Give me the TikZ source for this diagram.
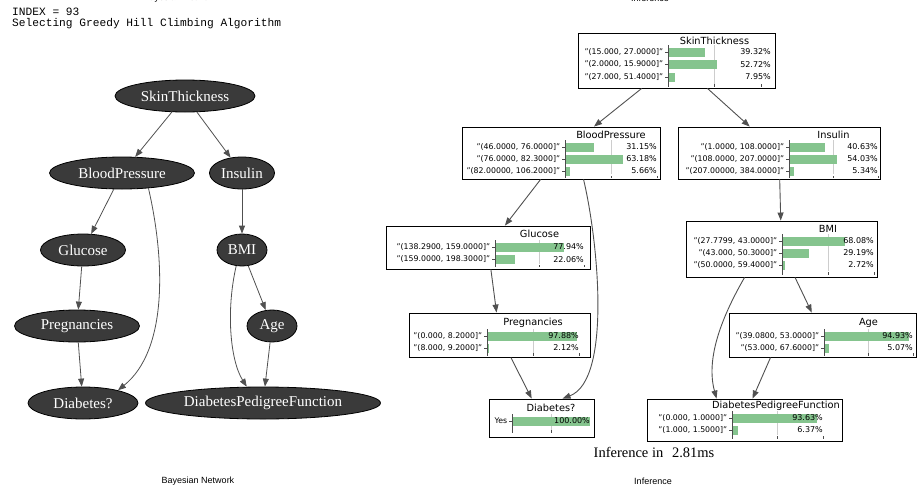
\documentclass[tikz,border=0pt]{standalone}
\usepackage{fontspec}
\setmainfont{Liberation Serif}
\setsansfont{DejaVu Sans}
\setmonofont{Liberation Mono}
\newfontfamily\capfont{Liberation Sans}
\usetikzlibrary{arrows.meta,shapes.geometric}
\definecolor{bnfill}{RGB}{58,58,58}
\definecolor{edgegray}{RGB}{80,80,80}
\definecolor{bargreen}{RGB}{133,196,142}
\definecolor{gridgray}{RGB}{205,205,205}

\begin{document}
\begin{tikzpicture}[x=1pt,y=-1pt]
\tikzset{
  bnnode/.style={ellipse,draw=black,fill=bnfill,line width=0.8pt,minimum height=32pt,inner sep=0pt,text=white,font=\fontsize{15}{17}\selectfont},
  bnedge/.style={draw=edgegray,line width=0.8pt,-{Triangle[length=8pt,width=6pt]}},
  infbox/.style={rectangle,draw=black,line width=0.9pt,inner sep=0pt},
  inftitle/.style={font=\sffamily\fontsize{9.8}{11}\selectfont,inner sep=0pt},
  rowlabel/.style={font=\sffamily\fontsize{7.8}{9}\selectfont,anchor=east,inner sep=1.5pt},
  pctlabel/.style={font=\sffamily\fontsize{8}{9}\selectfont,anchor=east,inner sep=0pt},
  bar/.style={fill=bargreen},
  gridln/.style={draw=gridgray,line width=0.6pt},
  axisln/.style={draw=black!70,line width=0.6pt},
  infedge/.style={draw=edgegray,line width=0.9pt,-{Triangle[length=8pt,width=6pt]}},
  caption/.style={font=\capfont\fontsize{9}{10}\selectfont,inner sep=0pt}
}
\useasboundingbox (0,0) rectangle (924,490);

% header text
\node[anchor=west,inner sep=0pt,font=\ttfamily\fontsize{11.2}{12}\selectfont] (t_index) at (12,12) {INDEX = 93};
\node[anchor=west,inner sep=0pt,font=\ttfamily\fontsize{11.2}{12}\selectfont] (t_algo) at (12,24) {Selecting Greedy Hill Climbing Algorithm};
\node[caption] (c_bntop) at (180,-1.5) {Bayesian Network};
\node[caption] (c_inftop) at (650,-1.5) {Inference};

% Bayesian network
\node[bnnode,minimum width=140pt] (b_st) at (185,96) {SkinThickness};
\node[bnnode,minimum width=145pt] (b_bp) at (122,173) {BloodPressure};
\node[bnnode,minimum width=65pt] (b_ins) at (242,173) {Insulin};
\node[bnnode,minimum width=85pt] (b_glu) at (83,250) {Glucose};
\node[bnnode,minimum width=50pt] (b_bmi) at (242,250) {BMI};
\node[bnnode,minimum width=125pt] (b_preg) at (77,326) {Pregnancies};
\node[bnnode,minimum width=50pt] (b_age) at (272,326) {Age};
\node[bnnode,minimum width=110pt] (b_diab) at (83,403) {Diabetes?};
\node[bnnode,minimum width=235pt] (b_dpf) at (263,403) {DiabetesPedigreeFunction};
\draw[bnedge] (b_st) -- (b_bp);
\draw[bnedge] (b_st) -- (b_ins);
\draw[bnedge] (b_bp) -- (b_glu);
\draw[bnedge] (b_bp.-30) .. controls (165,260) and (168,350) .. (b_diab.20);
\draw[bnedge] (b_glu) -- (b_preg);
\draw[bnedge] (b_preg) -- (b_diab);
\draw[bnedge] (b_ins) -- (b_bmi);
\draw[bnedge] (b_bmi) -- (b_age);
\draw[bnedge] (b_bmi.-110) .. controls (226,310) and (230,360) .. (b_dpf.135);
\draw[bnedge] (b_age) -- (b_dpf);
\node[caption] (c_bn) at (198,481) {Bayesian Network};

% SkinThickness
\node[infbox,minimum width=197pt,minimum height=55pt] (i_st) at (676.5,60.5) {};
\node[inftitle] (st_title) at (714.5,41) {SkinThickness};
\draw[gridln] (714.5,45) -- (714.5,84);
\fill[bar] (668,47.5) rectangle (704.6,56.5);
\fill[bar] (668,60) rectangle (717.0,69);
\fill[bar] (668,72.5) rectangle (675.4,81.5);
\draw[axisln] (668,45) -- (668,84);
\draw[axisln] (668,84) -- (668,87) (714.5,84) -- (714.5,87) (761,84) -- (761,87);
\draw[axisln] (668,52) -- ++(-3,0) node[rowlabel] {"(15.000, 27.0000]"};
\draw[axisln] (668,64.5) -- ++(-3,0) node[rowlabel] {"(2.0000, 15.9000]"};
\draw[axisln] (668,77) -- ++(-3,0) node[rowlabel] {"(27.000, 51.4000]"};
\node[pctlabel] at (771,52) {39.32\%};
\node[pctlabel] at (771,64.5) {52.72\%};
\node[pctlabel] at (771,77) {7.95\%};

% BloodPressure
\node[infbox,minimum width=198pt,minimum height=52pt] (i_bp) at (561,153) {};
\node[inftitle] (bp_title) at (611,135) {BloodPressure};
\draw[gridln] (611,140) -- (611,174);
\fill[bar] (565,142.5) rectangle (593.7,151.5);
\fill[bar] (565,154.5) rectangle (623.1,163.5);
\fill[bar] (565,166.5) rectangle (570.2,175.5);
\draw[axisln] (565,140) -- (565,176);
\draw[axisln] (565,176) -- (565,178) (611,176) -- (611,178) (657,176) -- (657,178);
\draw[axisln] (565,147) -- ++(-3,0) node[rowlabel] {"(46.0000, 76.0000]"};
\draw[axisln] (565,159) -- ++(-3,0) node[rowlabel] {"(76.0000, 82.3000]"};
\draw[axisln] (565,171) -- ++(-3,0) node[rowlabel] {"(82.00000, 106.2000]"};
\node[pctlabel] at (657,147) {31.15\%};
\node[pctlabel] at (657,159) {63.18\%};
\node[pctlabel] at (657,171) {5.66\%};

% Insulin
\node[infbox,minimum width=202pt,minimum height=52pt] (i_ins) at (779,153) {};
\node[inftitle] (ins_title) at (833.5,135) {Insulin};
\draw[gridln] (833.5,140) -- (833.5,174);
\fill[bar] (789,142.5) rectangle (825.2,151.5);
\fill[bar] (789,154.5) rectangle (837.1,163.5);
\fill[bar] (789,166.5) rectangle (793.8,175.5);
\draw[axisln] (789,140) -- (789,176);
\draw[axisln] (789,176) -- (789,178) (833.5,176) -- (833.5,178) (878,176) -- (878,178);
\draw[axisln] (789,147) -- ++(-3,0) node[rowlabel] {"(1.0000, 108.0000]"};
\draw[axisln] (789,159) -- ++(-3,0) node[rowlabel] {"(108.0000, 207.0000]"};
\draw[axisln] (789,171) -- ++(-3,0) node[rowlabel] {"(207.00000, 384.0000]"};
\node[pctlabel] at (878,147) {40.63\%};
\node[pctlabel] at (878,159) {54.03\%};
\node[pctlabel] at (878,171) {5.34\%};

% Glucose
\node[infbox,minimum width=204pt,minimum height=43pt] (i_glu) at (488,247.5) {};
\node[inftitle] (glu_title) at (539.5,234) {Glucose};
\draw[gridln] (539.5,240) -- (539.5,264);
\fill[bar] (495,242.5) rectangle (564.4,251.5);
\fill[bar] (495,255) rectangle (514.6,264);
\draw[axisln] (495,240) -- (495,265);
\draw[axisln] (495,265) -- (495,267) (539.5,265) -- (539.5,267) (584,265) -- (584,267);
\draw[axisln] (495,247) -- ++(-3,0) node[rowlabel] {"(138.2900, 159.0000]"};
\draw[axisln] (495,259.5) -- ++(-3,0) node[rowlabel] {"(159.0000, 198.3000]"};
\node[pctlabel] at (584,247) {77.94\%};
\node[pctlabel] at (584,259.5) {22.06\%};

% BMI
\node[infbox,minimum width=191pt,minimum height=56pt] (i_bmi) at (781.5,249) {};
\node[inftitle] (bmi_title) at (828,229) {BMI};
\draw[gridln] (828,234) -- (828,271);
\fill[bar] (782,236.5) rectangle (844.6,245.5);
\fill[bar] (782,248.5) rectangle (808.9,257.5);
\fill[bar] (782,260.5) rectangle (784.5,269.5);
\draw[axisln] (782,234) -- (782,272);
\draw[axisln] (782,272) -- (782,275) (828,272) -- (828,275) (874,272) -- (874,275);
\draw[axisln] (782,241) -- ++(-3,0) node[rowlabel] {"(27.7799, 43.0000]"};
\draw[axisln] (782,253) -- ++(-3,0) node[rowlabel] {"(43.000, 50.3000]"};
\draw[axisln] (782,265) -- ++(-3,0) node[rowlabel] {"(50.0000, 59.4000]"};
\node[pctlabel] at (874,241) {68.08\%};
\node[pctlabel] at (874,253) {29.19\%};
\node[pctlabel] at (874,265) {2.72\%};

% Pregnancies
\node[infbox,minimum width=181pt,minimum height=44pt] (i_preg) at (499.5,335) {};
\node[inftitle] (preg_title) at (533,323) {Pregnancies};
\draw[gridln] (533,329) -- (533,353);
\fill[bar] (487,331.5) rectangle (577.0,340.5);
\fill[bar] (487,343.5) rectangle (489.0,352.5);
\draw[axisln] (487,329) -- (487,353);
\draw[axisln] (487,353) -- (487,356) (533,353) -- (533,356) (579,353) -- (579,356);
\draw[axisln] (487,336) -- ++(-3,0) node[rowlabel] {"(0.000, 8.2000]"};
\draw[axisln] (487,348) -- ++(-3,0) node[rowlabel] {"(8.000, 9.2000]"};
\node[pctlabel] at (579,336) {97.88\%};
\node[pctlabel] at (579,348) {2.12\%};

% Age
\node[infbox,minimum width=187pt,minimum height=44pt] (i_age) at (822.5,335) {};
\node[inftitle] (age_title) at (868.5,323) {Age};
\draw[gridln] (868.5,329) -- (868.5,353);
\fill[bar] (824,331.5) rectangle (908.5,340.5);
\fill[bar] (824,343.5) rectangle (828.5,352.5);
\draw[axisln] (824,329) -- (824,353);
\draw[axisln] (824,353) -- (824,356) (868.5,353) -- (868.5,356) (913,353) -- (913,356);
\draw[axisln] (824,336) -- ++(-3,0) node[rowlabel] {"(39.0800, 53.0000]"};
\draw[axisln] (824,348) -- ++(-3,0) node[rowlabel] {"(53.000, 67.6000]"};
\node[pctlabel] at (913,336) {94.93\%};
\node[pctlabel] at (913,348) {5.07\%};

% Diabetes?
\node[infbox,minimum width=105pt,minimum height=38pt] (i_diab) at (541.5,418) {};
\node[inftitle] (diab_title) at (551,408) {Diabetes?};
\draw[gridln] (551,414) -- (551,430);
\fill[bar] (512,416.5) rectangle (590,425.5);
\draw[axisln] (512,414) -- (512,430);
\draw[axisln] (512,430) -- (512,433) (551,430) -- (551,433);
\draw[axisln] (512,421) -- ++(-3,0) node[rowlabel] {Yes};
\node[pctlabel] at (590,421) {100.00\%};

% DiabetesPedigreeFunction
\node[infbox,minimum width=195pt,minimum height=42pt] (i_dpf) at (744.5,420) {};
\node[inftitle] (dpf_title) at (776,406) {DiabetesPedigreeFunction};
\draw[gridln] (777.5,411) -- (777.5,435);
\fill[bar] (732,413.5) rectangle (817.2,422.5);
\fill[bar] (732,425.5) rectangle (737.8,434.5);
\draw[axisln] (732,411) -- (732,436);
\draw[axisln] (732,436) -- (732,439) (777.5,436) -- (777.5,439) (823,436) -- (823,439);
\draw[axisln] (732,418) -- ++(-3,0) node[rowlabel] {"(0.000, 1.0000]"};
\draw[axisln] (732,430) -- ++(-3,0) node[rowlabel] {"(1.000, 1.5000]"};
\node[pctlabel] at (823,418) {93.63\%};
\node[pctlabel] at (823,430) {6.37\%};

% inference edges
\draw[infedge] (i_st) -- (i_bp);
\draw[infedge] (i_st) -- (i_ins);
\draw[infedge] (i_bp) -- (i_glu);
\draw[infedge] ([xshift=122pt]i_bp.south west) .. controls (598,240) and (612,380) .. ([xshift=74pt]i_diab.north west);
\draw[infedge] (i_glu) -- (i_preg);
\draw[infedge] (i_preg) -- (i_diab);
\draw[infedge] (i_ins) -- (i_bmi);
\draw[infedge] (i_bmi) -- (i_age);
\draw[infedge] ([xshift=59pt]i_bmi.south west) .. controls (720,320) and (706,360) .. ([xshift=70pt]i_dpf.north west);
\draw[infedge] ([xshift=42pt]i_age.south west) -- ([xshift=106pt]i_dpf.north west);

\node[font=\fontsize{14.5}{16}\selectfont,inner sep=0pt] (t_time) at (654,452) {Inference in\hspace{0.6em}2.81ms};
\node[caption] (c_inf) at (653,481) {Inference};
\end{tikzpicture}
\end{document}
